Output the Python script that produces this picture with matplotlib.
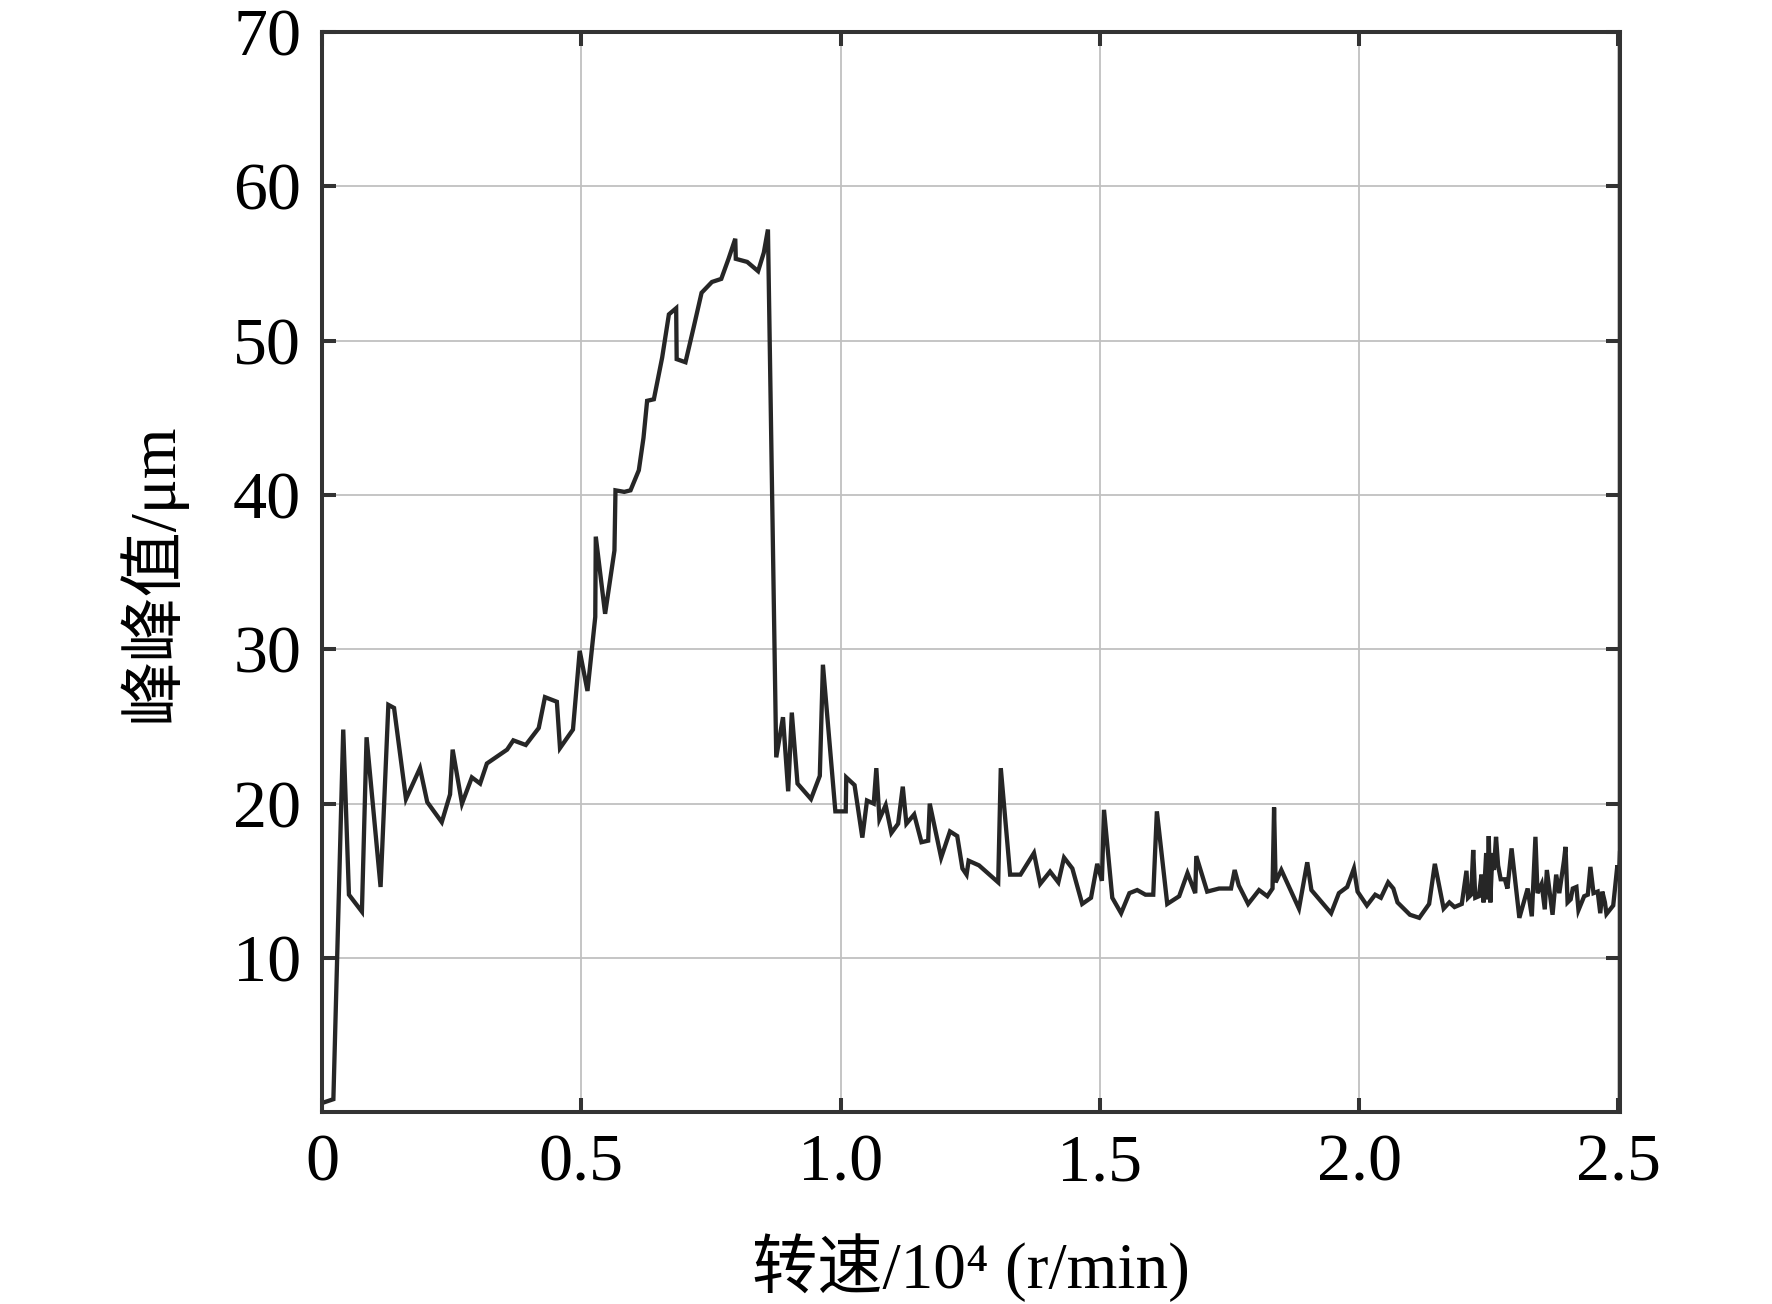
import matplotlib
matplotlib.use("Agg")
import matplotlib.pyplot as plt

plt.rcParams['font.family'] = ['Liberation Serif', 'Noto Sans CJK SC', 'DejaVu Sans']

# speed (10^4 r/min) and peak-to-peak value (um)
speed = [
    0.000, 0.022, 0.041, 0.052, 0.077, 0.086, 0.113, 0.128, 0.139, 0.162,
    0.189, 0.203, 0.231, 0.247, 0.252, 0.270, 0.289, 0.305, 0.318, 0.357,
    0.369, 0.393, 0.418, 0.430, 0.453, 0.459, 0.484, 0.497, 0.512, 0.527,
    0.528, 0.546, 0.564, 0.566, 0.583, 0.595, 0.611, 0.620, 0.627, 0.640,
    0.656, 0.669, 0.683, 0.684, 0.701, 0.717, 0.732, 0.752, 0.770, 0.784,
    0.797, 0.798, 0.820, 0.841, 0.852, 0.860,
    0.876, 0.889, 0.899, 0.906, 0.917, 0.943, 0.960, 0.966, 0.990, 1.010,
    1.011, 1.027, 1.042, 1.051, 1.064, 1.069, 1.075, 1.087, 1.098, 1.111,
    1.120, 1.127, 1.142, 1.156, 1.169, 1.172, 1.194, 1.211, 1.225, 1.235,
    1.243, 1.247, 1.267, 1.304, 1.309, 1.327, 1.347, 1.373, 1.385, 1.404,
    1.420, 1.431, 1.447, 1.466, 1.483, 1.495, 1.504, 1.508, 1.524, 1.541,
    1.557, 1.572, 1.588, 1.603, 1.610, 1.630, 1.653, 1.669, 1.684, 1.686,
    1.707, 1.730, 1.753, 1.760, 1.768, 1.786, 1.807, 1.823, 1.833, 1.836,
    1.839, 1.850, 1.884, 1.900, 1.908, 1.946, 1.961, 1.977, 1.990, 1.997,
    2.015, 2.031, 2.042, 2.056, 2.066, 2.074, 2.098, 2.116, 2.135, 2.146,
    2.163, 2.174, 2.184, 2.198, 2.207, 2.210, 2.216, 2.220, 2.224, 2.231,
    2.236, 2.240, 2.245, 2.247, 2.250, 2.253, 2.257, 2.260, 2.264, 2.268,
    2.273, 2.281, 2.286, 2.294, 2.309, 2.325, 2.333, 2.340, 2.344, 2.352,
    2.358, 2.362, 2.373, 2.380, 2.386, 2.395, 2.398, 2.402, 2.408, 2.412,
    2.419, 2.423, 2.434, 2.441, 2.446, 2.452, 2.460, 2.465, 2.469, 2.474,
    2.477, 2.490, 2.498, 2.501, 2.503,
]
peak = [
    0.6, 0.85, 24.8, 14.1, 13.0, 24.3, 14.6, 26.4, 26.2, 20.3,
    22.3, 20.1, 18.8, 20.6, 23.5, 20.0, 21.7, 21.3, 22.6, 23.5,
    24.1, 23.8, 24.9, 26.9, 26.6, 23.6, 24.8, 29.9, 27.3, 32.1,
    37.3, 32.3, 36.4, 40.3, 40.2, 40.3, 41.6, 43.7, 46.1, 46.2,
    48.9, 51.7, 52.1, 48.8, 48.6, 50.9, 53.1, 53.8, 54.0, 55.3,
    56.6, 55.3, 55.1, 54.5, 55.7, 57.2,
    23.0, 25.6, 20.8, 25.9, 21.3, 20.3, 21.8, 29.0, 19.5, 19.5,
    21.7, 21.2, 17.8, 20.2, 20.0, 22.3, 19.0, 19.9, 18.1, 18.7,
    21.1, 18.7, 19.3, 17.5, 17.6, 20.0, 16.5, 18.2, 17.9, 15.8,
    15.4, 16.3, 16.0, 14.9, 22.3, 15.4, 15.4, 16.8, 14.8, 15.6,
    14.9, 16.5, 15.8, 13.5, 13.9, 16.1, 15.0, 19.6, 13.9, 12.9,
    14.2, 14.4, 14.1, 14.1, 19.5, 13.5, 14.0, 15.5, 14.2, 16.6,
    14.3, 14.5, 14.5, 15.7, 14.7, 13.5, 14.4, 14.0, 14.5, 19.75,
    14.9, 15.7, 13.2, 16.2, 14.4, 12.9, 14.2, 14.6, 15.8, 14.3,
    13.4, 14.1, 13.9, 14.9, 14.5, 13.6, 12.8, 12.6, 13.5, 16.1,
    13.2, 13.6, 13.3, 13.5, 15.65, 13.9, 14.1, 17.0, 13.9, 14.0,
    15.4, 13.6, 16.8, 13.8, 17.9, 13.6, 16.8, 15.7, 17.85, 16.0,
    15.1, 15.1, 14.5, 17.1, 12.6, 14.5, 12.7, 17.85, 14.2, 14.8,
    13.15, 15.7, 12.8, 15.4, 14.2, 16.3, 17.2, 13.6, 13.8, 14.5,
    14.6, 13.1, 14.0, 14.1, 15.9, 14.2, 14.3, 12.9, 14.3, 13.6,
    12.85, 13.4, 16.0, 15.1, 16.8,
]

x_ticks = [0, 0.5, 1.0, 1.5, 2.0, 2.5]
x_tick_labels = ["0", "0.5", "1.0", "1.5", "2.0", "2.5"]
y_ticks = [10, 20, 30, 40, 50, 60, 70]

fig = plt.figure(figsize=(17.72, 13.04), dpi=100)
ax = fig.add_axes([0.1817, 0.147, 0.7325, 0.8285])

ax.plot(speed, peak, color="#262626", linewidth=3.1, solid_joinstyle="miter")

ax.set_xlim(0, 2.503)
ax.set_ylim(0, 70)
ax.set_xticks(x_ticks)
ax.set_xticklabels(x_tick_labels)
ax.set_yticks(y_ticks)

ax.grid(True, color="#c0c0c0", linewidth=1.3)
ax.set_axisbelow(True)

for spine in ax.spines.values():
    spine.set_linewidth(2.9)
    spine.set_color("#333333")

ax.tick_params(
    direction="in", length=10, width=2.9, color="#333333",
    top=True, right=True, labelsize=49, pad=15
)

ax.set_xlabel("转速/10⁴ (r/min)", fontsize=47, labelpad=28)
ax.set_ylabel("峰峰值/μm", fontsize=47, labelpad=34)

plt.savefig("out.png", dpi=100)
plt.close()
